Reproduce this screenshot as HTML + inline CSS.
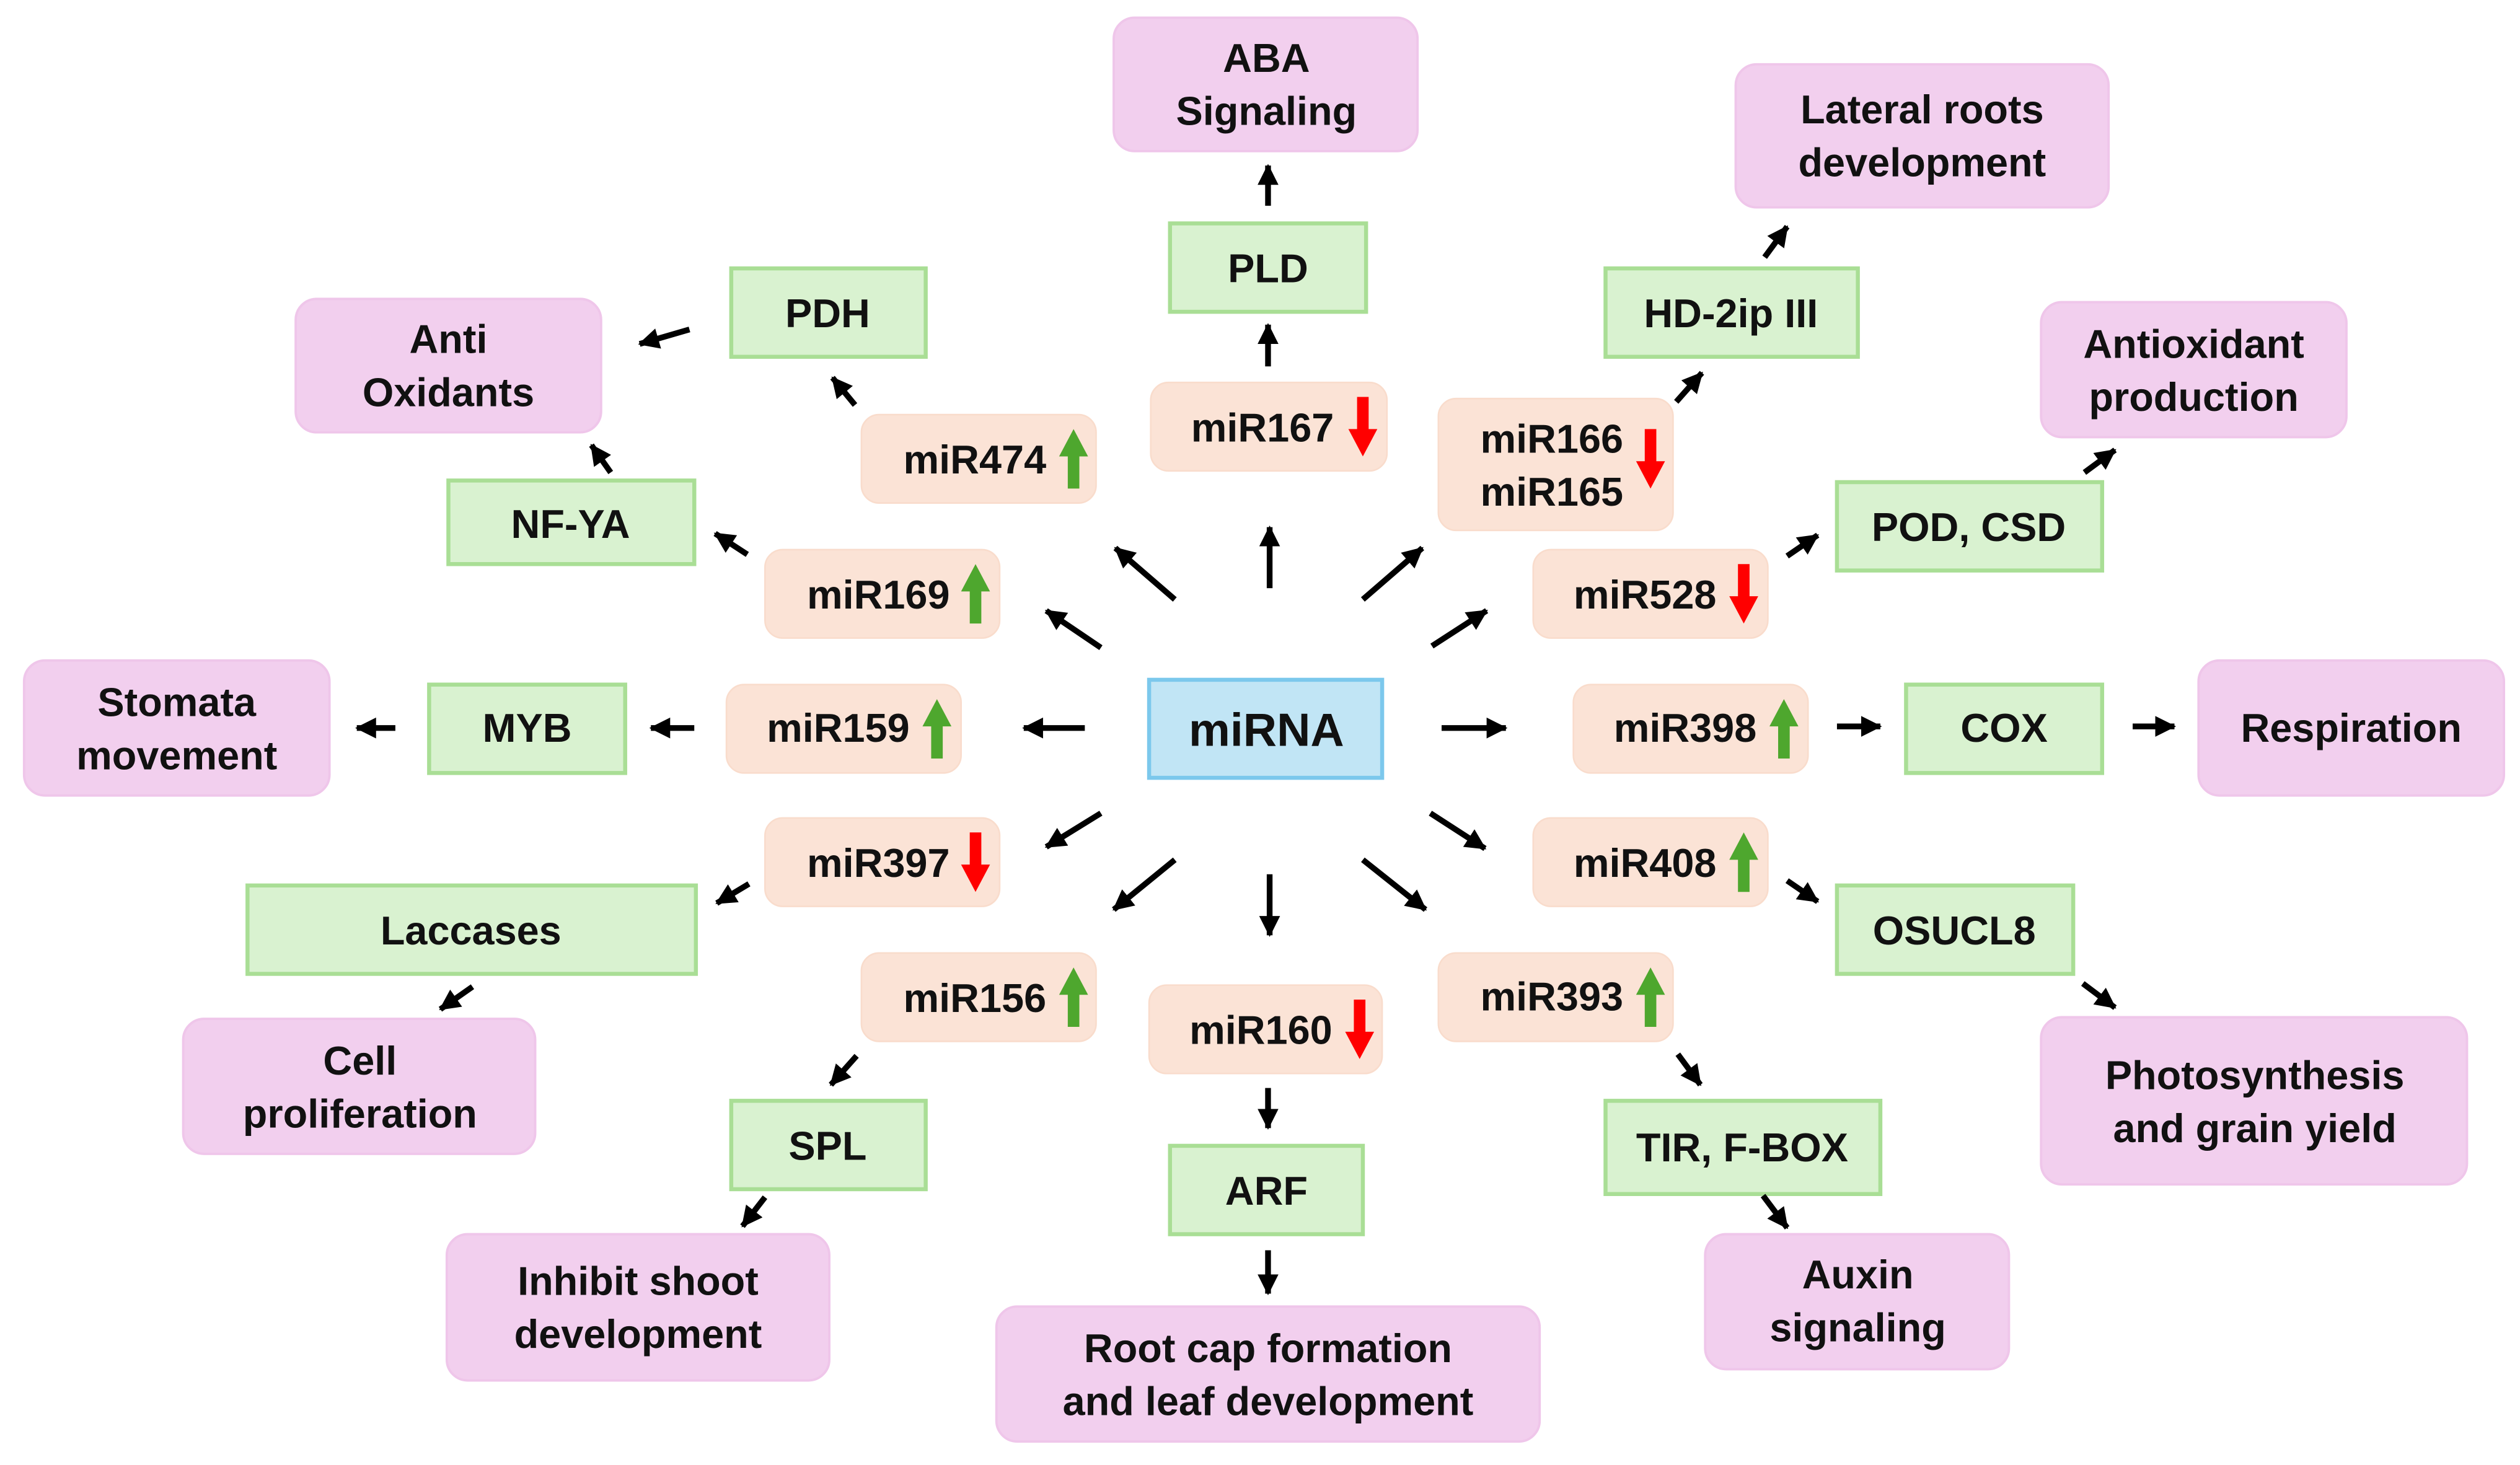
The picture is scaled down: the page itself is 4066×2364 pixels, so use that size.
<!DOCTYPE html>
<html><head><meta charset="utf-8"><style>
html,body{margin:0;padding:0;background:#fff;}
svg{display:block}
text{font-family:"Liberation Sans",Arial,sans-serif;font-weight:bold;font-size:25px;fill:#111;text-anchor:middle;dominant-baseline:central}
.pk{fill:#f2cfee;stroke:#efc6ea;stroke-width:1.5}
.gr{fill:#d9f2d0;stroke:#a9de95;stroke-width:2.5}
.pe{fill:#fbe3d6;stroke:#f9dccc;stroke-width:1}
.bl{fill:#c1e5f5;stroke:#7cc8ec;stroke-width:2.5}
.ar{stroke:#000;stroke-width:3.6;fill:none;marker-end:url(#h)}
.up{fill:#4ea72e}.dn{fill:#ff0000}
</style></head><body>
<svg width="4066" height="2364" viewBox="0 0 1568 911.6" xmlns="http://www.w3.org/2000/svg">
<defs>
<marker id="h" markerUnits="userSpaceOnUse" markerWidth="14" markerHeight="14" refX="12" refY="6.5" orient="auto"><path d="M0,0 L13,6.5 L0,13 Z" fill="#000"/></marker>
<path id="ua" d="M0,0 L9,17 L3.6,17 L3.6,37 L-3.6,37 L-3.6,17 L-9,17 Z"/>
</defs>

<!-- pink -->
<rect class="pk" x="693" y="11" width="189" height="83" rx="13"/><text x="788" y="36">ABA</text><text x="788" y="69">Signaling</text>
<rect class="pk" x="1080" y="40" width="232" height="89" rx="13"/><text x="1196" y="68">Lateral roots</text><text x="1196" y="101">development</text>
<rect class="pk" x="184" y="186" width="190" height="83" rx="13"/><text x="279" y="211">Anti</text><text x="279" y="244">Oxidants</text>
<rect class="pk" x="1270" y="188" width="190" height="84" rx="13"/><text x="1365" y="214">Antioxidant</text><text x="1365" y="247">production</text>
<rect class="pk" x="15" y="411" width="190" height="84" rx="13"/><text x="110" y="437">Stomata</text><text x="110" y="470">movement</text>
<rect class="pk" x="1368" y="411" width="190" height="84" rx="13"/><text x="1463" y="453">Respiration</text>
<rect class="pk" x="114" y="634" width="219" height="84" rx="13"/><text x="224" y="660">Cell</text><text x="224" y="693">proliferation</text>
<rect class="pk" x="1270" y="633" width="265" height="104" rx="13"/><text x="1403" y="669">Photosynthesis</text><text x="1403" y="702">and grain yield</text>
<rect class="pk" x="278" y="768" width="238" height="91" rx="13"/><text x="397" y="797">Inhibit shoot</text><text x="397" y="830">development</text>
<rect class="pk" x="620" y="813" width="338" height="84" rx="13"/><text x="789" y="839">Root cap formation</text><text x="789" y="872">and leaf development</text>
<rect class="pk" x="1061" y="768" width="189" height="84" rx="13"/><text x="1156" y="793">Auxin</text><text x="1156" y="826">signaling</text>

<!-- green -->
<rect class="gr" x="728" y="139" width="122" height="55"/><text x="789" y="167">PLD</text>
<rect class="gr" x="455" y="167" width="121" height="55"/><text x="515" y="195">PDH</text>
<rect class="gr" x="999" y="167" width="157" height="55"/><text x="1077" y="195">HD-2ip III</text>
<rect class="gr" x="279" y="299" width="153" height="52"/><text x="355" y="326">NF-YA</text>
<rect class="gr" x="1143" y="300" width="165" height="55"/><text x="1225" y="328">POD, CSD</text>
<rect class="gr" x="267" y="426" width="122" height="55"/><text x="328" y="453">MYB</text>
<rect class="gr" x="1186" y="426" width="122" height="55"/><text x="1247" y="453">COX</text>
<rect class="gr" x="154" y="551" width="279" height="55"/><text x="293" y="579">Laccases</text>
<rect class="gr" x="1143" y="551" width="147" height="55"/><text x="1216" y="579">OSUCL8</text>
<rect class="gr" x="455" y="685" width="121" height="55"/><text x="515" y="713">SPL</text>
<rect class="gr" x="728" y="713" width="120" height="55"/><text x="788" y="741">ARF</text>
<rect class="gr" x="999" y="685" width="171" height="58"/><text x="1084" y="714">TIR, F-BOX</text>

<!-- blue -->
<rect class="bl" x="715" y="423" width="145" height="61"/><text x="788" y="454" style="font-size:29px">miRNA</text>

<!-- peach -->
<g style="text-anchor:end">
<rect class="pe" x="536" y="258" width="146" height="55" rx="11"/><text x="651" y="286" style="text-anchor:end">miR474</text><use href="#ua" class="up" transform="translate(668,267)"/>
<rect class="pe" x="716" y="238" width="147" height="55" rx="11"/><text x="830" y="266" style="text-anchor:end">miR167</text><use href="#ua" class="dn" transform="translate(848,284) scale(1,-1)"/>
<rect class="pe" x="895" y="248" width="146" height="82" rx="11"/><text x="1010" y="273" style="text-anchor:end">miR166</text><text x="1010" y="306" style="text-anchor:end">miR165</text><use href="#ua" class="dn" transform="translate(1027,304) scale(1,-1)"/>
<rect class="pe" x="476" y="342" width="146" height="55" rx="11"/><text x="591" y="370" style="text-anchor:end">miR169</text><use href="#ua" class="up" transform="translate(607,351)"/>
<rect class="pe" x="954" y="342" width="146" height="55" rx="11"/><text x="1068" y="370" style="text-anchor:end">miR528</text><use href="#ua" class="dn" transform="translate(1085,388) scale(1,-1)"/>
<rect class="pe" x="452" y="426" width="146" height="55" rx="11"/><text x="566" y="453" style="text-anchor:end">miR159</text><use href="#ua" class="up" transform="translate(583,435)"/>
<rect class="pe" x="979" y="426" width="146" height="55" rx="11"/><text x="1093" y="453" style="text-anchor:end">miR398</text><use href="#ua" class="up" transform="translate(1110,435)"/>
<rect class="pe" x="476" y="509" width="146" height="55" rx="11"/><text x="591" y="537" style="text-anchor:end">miR397</text><use href="#ua" class="dn" transform="translate(607,555) scale(1,-1)"/>
<rect class="pe" x="954" y="509" width="146" height="55" rx="11"/><text x="1068" y="537" style="text-anchor:end">miR408</text><use href="#ua" class="up" transform="translate(1085,518)"/>
<rect class="pe" x="536" y="593" width="146" height="55" rx="11"/><text x="651" y="621" style="text-anchor:end">miR156</text><use href="#ua" class="up" transform="translate(668,602)"/>
<rect class="pe" x="715" y="613" width="145" height="55" rx="11"/><text x="829" y="641" style="text-anchor:end">miR160</text><use href="#ua" class="dn" transform="translate(846,659) scale(1,-1)"/>
<rect class="pe" x="895" y="593" width="146" height="55" rx="11"/><text x="1010" y="620" style="text-anchor:end">miR393</text><use href="#ua" class="up" transform="translate(1027,602)"/>
</g>

<!-- arrows -->
<line class="ar" x1="790" y1="366" x2="790" y2="328"/>
<line class="ar" x1="731" y1="373" x2="694" y2="341"/>
<line class="ar" x1="848" y1="373" x2="885" y2="341"/>
<line class="ar" x1="685" y1="403" x2="651" y2="380"/>
<line class="ar" x1="891" y1="402" x2="925" y2="380"/>
<line class="ar" x1="675" y1="453" x2="637" y2="453"/>
<line class="ar" x1="897" y1="453" x2="937" y2="453"/>
<line class="ar" x1="685" y1="506" x2="651" y2="527"/>
<line class="ar" x1="890" y1="506" x2="924" y2="528"/>
<line class="ar" x1="731" y1="535" x2="693" y2="566"/>
<line class="ar" x1="790" y1="544" x2="790" y2="582"/>
<line class="ar" x1="848" y1="535" x2="887" y2="566"/>

<line class="ar" x1="789" y1="228" x2="789" y2="202"/>
<line class="ar" x1="789" y1="128" x2="789" y2="103"/>
<line class="ar" x1="532" y1="252" x2="518" y2="235"/>
<line class="ar" x1="429" y1="205" x2="398" y2="214"/>
<line class="ar" x1="380" y1="294" x2="368" y2="277"/>
<line class="ar" x1="465" y1="345" x2="445" y2="332"/>
<line class="ar" x1="246" y1="453" x2="222" y2="453"/>
<line class="ar" x1="432" y1="453" x2="405" y2="453"/>
<line class="ar" x1="466" y1="550" x2="446" y2="562"/>
<line class="ar" x1="294" y1="614" x2="274" y2="628"/>
<line class="ar" x1="533" y1="657" x2="517" y2="675"/>
<line class="ar" x1="476" y1="745" x2="462" y2="763"/>
<line class="ar" x1="789" y1="677" x2="789" y2="702"/>
<line class="ar" x1="789" y1="778" x2="789" y2="805"/>
<line class="ar" x1="1043" y1="250" x2="1059" y2="232"/>
<line class="ar" x1="1098" y1="160" x2="1112" y2="141"/>
<line class="ar" x1="1112" y1="346" x2="1131" y2="333"/>
<line class="ar" x1="1297" y1="294" x2="1316" y2="280"/>
<line class="ar" x1="1143" y1="452" x2="1170" y2="452"/>
<line class="ar" x1="1327" y1="452" x2="1353" y2="452"/>
<line class="ar" x1="1112" y1="548" x2="1131" y2="561"/>
<line class="ar" x1="1296" y1="612" x2="1316" y2="627"/>
<line class="ar" x1="1044" y1="656" x2="1058" y2="675"/>
<line class="ar" x1="1097" y1="744" x2="1112" y2="764"/>
</svg>
</body></html>
